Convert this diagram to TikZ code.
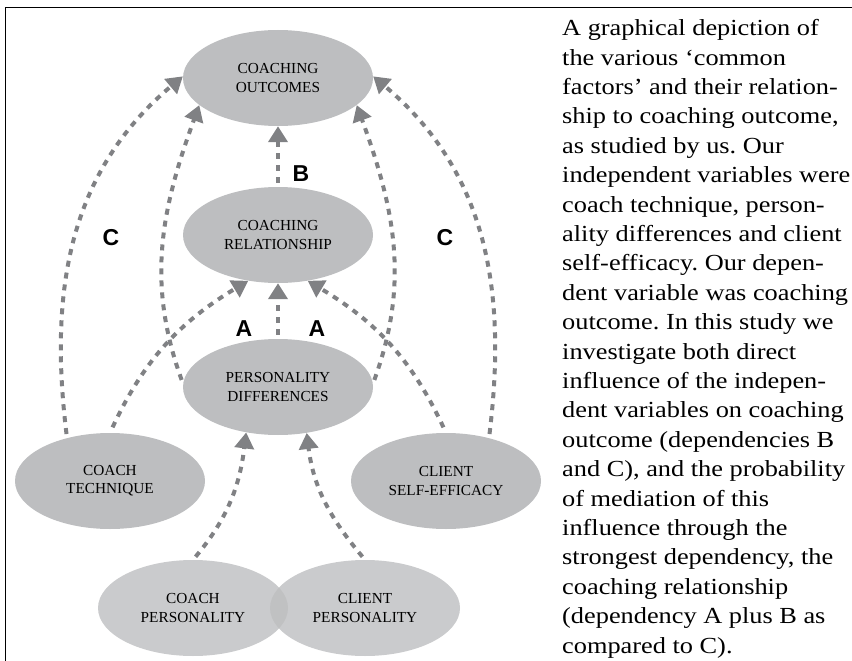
\documentclass[tikz,border=0pt]{standalone}
\usepackage{fontspec}
\setmainfont{Liberation Serif}
\newfontfamily\capfont[FakeStretch=1.145]{Liberation Serif}
\newfontfamily\lblfont{Liberation Sans}
\usetikzlibrary{shapes.geometric, arrows.meta}
\frenchspacing
\definecolor{ellfill}{RGB}{189,190,192}
\definecolor{linkgray}{RGB}{128,129,132}
\tikzset{
    factor/.style = {ellipse, fill=ellfill, minimum width=190pt, minimum height=96pt,
        inner sep=0pt, align=center, font=\fontsize{15.3}{18.3}\selectfont},
    pale/.style = {fill opacity=.8, text opacity=1},
    link/.style = {draw=linkgray, line width=4pt, dash pattern=on 6pt off 6pt,
        -{Triangle[width=19pt,length=16pt]}, shorten <=4pt},
    letter/.style = {font=\lblfont\bfseries\fontsize{23}{23}\selectfont, inner sep=0pt},
}

\begin{document}
\begin{tikzpicture}[x=1pt,y=1pt]
\useasboundingbox (0,0) rectangle (852,-661);

% frame
\draw[line width=1.4pt] (852,-7.5) -- (5.3,-7.5) -- (5.3,-661);

% factors
\node[factor] (out) at (278,-78) {COACHING\\OUTCOMES};
\node[factor] (rel) at (278,-235) {COACHING\\RELATIONSHIP};
\node[factor] (pdiff) at (278,-387) {PERSONALITY\\DIFFERENCES};
\node[factor] (tech) at (110,-481) {COACH\\TECHNIQUE};
\node[factor] (selfeff) at (446,-481) {CLIENT\\SELF-EFFICACY};
\node[factor,pale] (cpers) at (193,-608) {COACH\\PERSONALITY};
\node[factor,pale] (clpers) at (365,-608) {CLIENT\\PERSONALITY};

% dependencies
\draw[link] (rel.north) -- (out.south);
\draw[link] (pdiff.north) -- (rel.south);
\draw[link,shorten <=6pt] (tech.90) to[out=65,in=211] (rel.237);
\draw[link,shorten <=6pt] (selfeff.90) to[out=115,in=329] (rel.303);
\draw[link] (tech.135) to[out=97,in=220] (out.179);
\draw[link] (selfeff.45) to[out=83,in=320] (out.1);
\draw[link] (pdiff.178) to[out=110,in=250] (out.199);
\draw[link] (pdiff.2) to[out=70,in=290] (out.341);
\draw[link] (cpers.north) to[out=50,in=263] (pdiff.235);
\draw[link] (clpers.north) to[out=130,in=277] (pdiff.302);

\node[letter] (b) at (301,-174) {B};
\node[letter] (c1) at (111,-238) {C};
\node[letter] (c2) at (445,-238) {C};
\node[letter] (a1) at (244,-329) {A};
\node[letter] (a2) at (317,-329) {A};

% caption (base = last line)
\node[anchor=base west, inner sep=0pt, align=left,
      font=\capfont\fontsize{23}{29.4}\selectfont] (caption) at (562,-653)
  {A graphical depiction of\\
   the various ‘common\\
   factors’ and their relation-\\
   ship to coaching outcome,\\
   as studied by us. Our\\
   independent variables were\\
   coach technique, person-\\
   ality differences and client\\
   self-efficacy. Our depen-\\
   dent variable was coaching\\
   outcome. In this study we\\
   investigate both direct\\
   influence of the indepen-\\
   dent variables on coaching\\
   outcome (dependencies B\\
   and C), and the probability\\
   of mediation of this\\
   influence through the\\
   strongest dependency, the\\
   coaching relationship\\
   (dependency A plus B as\\
   compared to C).};
\end{tikzpicture}
\end{document}
